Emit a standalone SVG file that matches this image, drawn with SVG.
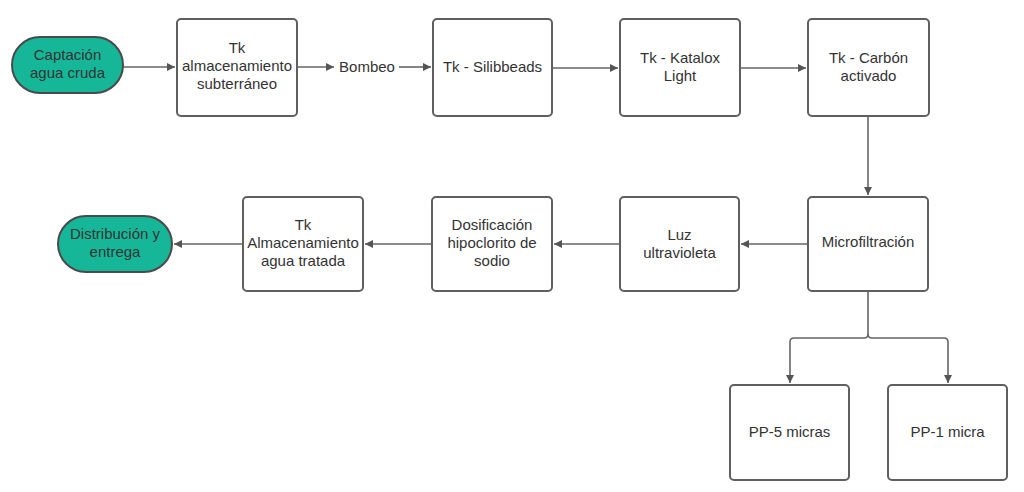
<svg xmlns="http://www.w3.org/2000/svg" width="1024" height="492" viewBox="0 0 1024 492">
<style>
.box{fill:#fff;stroke:#5f5f5f;stroke-width:2}
.pill{fill:#16b799;stroke:#4a4a4a;stroke-width:2}
text{font-family:"Liberation Sans",Arial,sans-serif;font-size:15px;fill:#333;text-anchor:middle}
.c{fill:none;stroke:#666;stroke-width:1.6}
</style>
<defs>
<marker id="ah" viewBox="0 0 10 10" refX="10" refY="5" markerWidth="11" markerHeight="8" markerUnits="userSpaceOnUse" orient="auto"><path d="M0,0 L10,5 L0,10 z" fill="#555"/></marker>
</defs>
<rect width="1024" height="492" fill="#fff"/>
<g id="connectors">
<path class="c" d="M123,67 H175" marker-end="url(#ah)"/>
<path class="c" d="M297,67 H334" marker-end="url(#ah)"/>
<path class="c" d="M399,67 H431" marker-end="url(#ah)"/>
<path class="c" d="M552,68 H618" marker-end="url(#ah)"/>
<path class="c" d="M740,68 H806" marker-end="url(#ah)"/>
<path class="c" d="M868,116 V195" marker-end="url(#ah)"/>
<path class="c" d="M808,244 H741" marker-end="url(#ah)"/>
<path class="c" d="M620,244 H554" marker-end="url(#ah)"/>
<path class="c" d="M432,244 H365" marker-end="url(#ah)"/>
<path class="c" d="M243,244 H174" marker-end="url(#ah)"/>
<path class="c" d="M868,291 V334 Q868,338 864,338 H794 Q790,338 790,342 V383" marker-end="url(#ah)"/>
<path class="c" d="M868,334 Q868,338 872,338 H944 Q948,338 948,342 V383" marker-end="url(#ah)"/>
</g>
<g id="captacion"><rect class="pill" x="12" y="37" width="111" height="56" rx="28"/><text x="67.5" y="60">Captación</text><text x="67.5" y="78">agua cruda</text></g>
<g id="tk-almacenamiento"><rect class="box" x="177" y="19" width="120" height="97" rx="4"/><text x="237" y="53">Tk</text><text x="237" y="71">almacenamiento</text><text x="237" y="89">subterráneo</text></g>
<g id="bombeo"><text x="367" y="72">Bombeo</text></g>
<g id="silibbeads"><rect class="box" x="433" y="19" width="119" height="97" rx="4"/><text x="492.5" y="72">Tk - Silibbeads</text></g>
<g id="katalox"><rect class="box" x="620" y="19" width="120" height="97" rx="4"/><text x="680" y="63">Tk - Katalox</text><text x="680" y="81">Light</text></g>
<g id="carbon"><rect class="box" x="808" y="19" width="121" height="97" rx="4"/><text x="868.5" y="63">Tk - Carbón</text><text x="868.5" y="81">activado</text></g>
<g id="microfiltracion"><rect class="box" x="808" y="197" width="120" height="94" rx="4"/><text x="868" y="247">Microfiltración</text></g>
<g id="luz"><rect class="box" x="620" y="197" width="119" height="94" rx="4"/><text x="679.5" y="240">Luz</text><text x="679.5" y="258">ultravioleta</text></g>
<g id="dosificacion"><rect class="box" x="432" y="197" width="120" height="94" rx="4"/><text x="492" y="230">Dosificación</text><text x="492" y="248">hipoclorito de</text><text x="492" y="266">sodio</text></g>
<g id="tk-agua-tratada"><rect class="box" x="243" y="197" width="120" height="94" rx="4"/><text x="303" y="230">Tk</text><text x="303" y="248">Almacenamiento</text><text x="303" y="266">agua tratada</text></g>
<g id="distribucion"><rect class="pill" x="58" y="216" width="114" height="56" rx="28"/><text x="115" y="239">Distribución y</text><text x="115" y="257">entrega</text></g>
<g id="pp5"><rect class="box" x="730" y="385" width="119" height="95" rx="4"/><text x="789.5" y="437">PP-5 micras</text></g>
<g id="pp1"><rect class="box" x="888" y="385" width="119" height="95" rx="4"/><text x="947.5" y="437">PP-1 micra</text></g>
</svg>
